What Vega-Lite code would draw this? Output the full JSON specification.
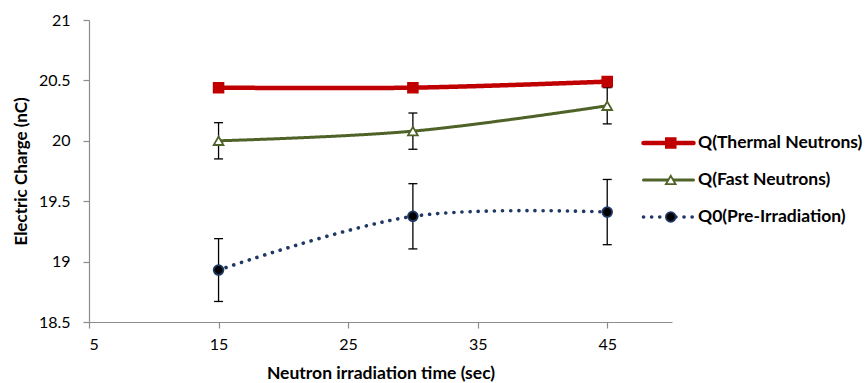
{
  "$schema": "https://vega.github.io/schema/vega-lite/v6.json",
  "width": 583,
  "height": 302,
  "autosize": {"type": "none"},
  "padding": {"left": 89, "top": 20, "right": 196, "bottom": 61},
  "background": "white",
  "config": {
    "view": {"stroke": null},
    "font": "Lato",
    "axis": {
      "grid": false,
      "domainColor": "#8c8c8c",
      "tickColor": "#8c8c8c",
      "domainWidth": 1.2,
      "tickWidth": 1.2,
      "tickSize": 6,
      "labelFont": "Lato",
      "labelFontSize": 16,
      "labelColor": "black",
      "titleFont": "Lato",
      "titleFontSize": 17,
      "titleFontWeight": "bold",
      "titleColor": "black"
    },
    "legend": {
      "labelFont": "Lato",
      "labelFontSize": 17.5,
      "labelFontWeight": "bold",
      "labelColor": "black",
      "labelLimit": 400,
      "padding": 0
    }
  },
  "data": {
    "values": [
      {"series": "Q(Thermal Neutrons)", "name": "Q(Thermal Neutrons)", "x": 15, "y": 20.44},
      {"series": "Q(Thermal Neutrons)", "name": "Q(Thermal Neutrons)", "x": 30, "y": 20.44},
      {"series": "Q(Thermal Neutrons)", "name": "Q(Thermal Neutrons)", "x": 45, "y": 20.49},
      {"series": "Q(Fast Neutrons)", "name": "Q(Fast Neutrons)", "x": 15, "y": 20.0, "lo": 19.85, "hi": 20.15},
      {"series": "Q(Fast Neutrons)", "name": "Q(Fast Neutrons)", "x": 30, "y": 20.08, "lo": 19.93, "hi": 20.23},
      {"series": "Q(Fast Neutrons)", "name": "Q(Fast Neutrons)", "x": 45, "y": 20.29, "lo": 20.14, "hi": 20.44},
      {"series": "Q0(Pre-Irradiation)", "name": "Q0(Pre-Irradiation)", "x": 15, "y": 18.93, "lo": 18.67, "hi": 19.19},
      {"series": "Q0(Pre-Irradiation)", "name": "Q0(Pre-Irradiation)", "x": 30, "y": 19.375, "lo": 19.105, "hi": 19.645},
      {"series": "Q0(Pre-Irradiation)", "name": "Q0(Pre-Irradiation)", "x": 45, "y": 19.41, "lo": 19.14, "hi": 19.68}
    ]
  },
  "encoding": {
    "x": {
      "field": "x", "type": "quantitative",
      "scale": {"domain": [5, 50], "nice": false, "zero": false},
      "axis": {"values": [5, 15, 25, 35, 45], "title": "Neutron irradiation time (sec)", "labelPadding": 8, "titlePadding": 12, "titleFontSize": 17.5}
    },
    "y": {
      "field": "y", "type": "quantitative",
      "scale": {"domain": [18.5, 21], "nice": false, "zero": false},
      "axis": {"values": [18.5, 19, 19.5, 20, 20.5, 21], "format": ".1~f", "title": "Electric Charge (nC)", "labelPadding": 13, "titlePadding": 8}
    }
  },
  "layer": [
    {
      "mark": {"type": "line", "interpolate": "catmull-rom", "strokeCap": "round"},
      "encoding": {
        "color": {
          "field": "series", "type": "nominal",
          "scale": {"domain": ["Q(Thermal Neutrons)", "Q(Fast Neutrons)", "Q0(Pre-Irradiation)"], "range": ["#C00000", "#4F6228", "#1F3864"]},
          "legend": {"title": null, "orient": "none", "legendX": 552, "legendY": 115, "symbolSize": 2500, "clipHeight": 16, "rowPadding": 19, "labelOffset": 2, "symbolType": "stroke",
            "encode": {"symbols": {"update": {"strokeCap": {"value": "round"}}}}}
        },
        "strokeDash": {
          "field": "series", "type": "nominal",
          "scale": {"domain": ["Q(Thermal Neutrons)", "Q(Fast Neutrons)", "Q0(Pre-Irradiation)"], "range": [[1, 0], [1, 0], [0.1, 8]]},
          "legend": {"title": null, "orient": "none", "legendX": 552, "legendY": 115, "symbolSize": 2500, "clipHeight": 16, "rowPadding": 19, "labelOffset": 2, "symbolType": "stroke"}
        },
        "strokeWidth": {
          "field": "series", "type": "nominal",
          "scale": {"type": "ordinal", "domain": ["Q(Thermal Neutrons)", "Q(Fast Neutrons)", "Q0(Pre-Irradiation)"], "range": [4.5, 3, 3.6]},
          "legend": {"title": null, "orient": "none", "legendX": 552, "legendY": 115, "symbolSize": 2500, "clipHeight": 16, "rowPadding": 19, "labelOffset": 2, "symbolType": "stroke"}
        }
      }
    },
    {
      "transform": [{"filter": {"field": "lo", "valid": true}}],
      "mark": {"type": "rule", "color": "black", "strokeWidth": 1.3},
      "encoding": {
        "y": {"field": "lo", "type": "quantitative", "title": "Electric Charge (nC)"},
        "y2": {"field": "hi"}
      }
    },
    {
      "transform": [{"filter": {"field": "lo", "valid": true}}],
      "mark": {"type": "tick", "orient": "horizontal", "color": "black", "size": 9, "thickness": 1.3, "opacity": 1},
      "encoding": {
        "y": {"field": "lo", "type": "quantitative", "title": "Electric Charge (nC)"}
      }
    },
    {
      "transform": [{"filter": {"field": "lo", "valid": true}}],
      "mark": {"type": "tick", "orient": "horizontal", "color": "black", "size": 9, "thickness": 1.3, "opacity": 1},
      "encoding": {
        "y": {"field": "hi", "type": "quantitative", "title": "Electric Charge (nC)"}
      }
    },
    {
      "mark": {"type": "point", "opacity": 1, "strokeWidth": 1.8, "size": 95},
      "encoding": {
        "shape": {
          "field": "name", "type": "nominal", "sort": null,
          "scale": {"range": ["square", "triangle-up", "circle"]},
          "legend": {"title": null, "orient": "none", "legendX": 573, "legendY": 115, "symbolSize": 95, "clipHeight": 16, "rowPadding": 19, "labelExpr": "''", "symbolOpacity": 1, "symbolStrokeWidth": 1.8}
        },
        "fill": {
          "field": "name", "type": "nominal", "sort": null,
          "scale": {"range": ["#C00000", "white", "black"]},
          "legend": {"title": null, "orient": "none", "legendX": 573, "legendY": 115, "symbolSize": 95, "clipHeight": 16, "rowPadding": 19, "labelExpr": "''", "symbolOpacity": 1, "symbolStrokeWidth": 1.8}
        },
        "stroke": {
          "field": "name", "type": "nominal", "sort": null,
          "scale": {"range": ["#C00000", "#4F6228", "#1F3864"]},
          "legend": {"title": null, "orient": "none", "legendX": 573, "legendY": 115, "symbolSize": 95, "clipHeight": 16, "rowPadding": 19, "labelExpr": "''", "symbolOpacity": 1, "symbolStrokeWidth": 1.8}
        }
      }
    }
  ]
}
